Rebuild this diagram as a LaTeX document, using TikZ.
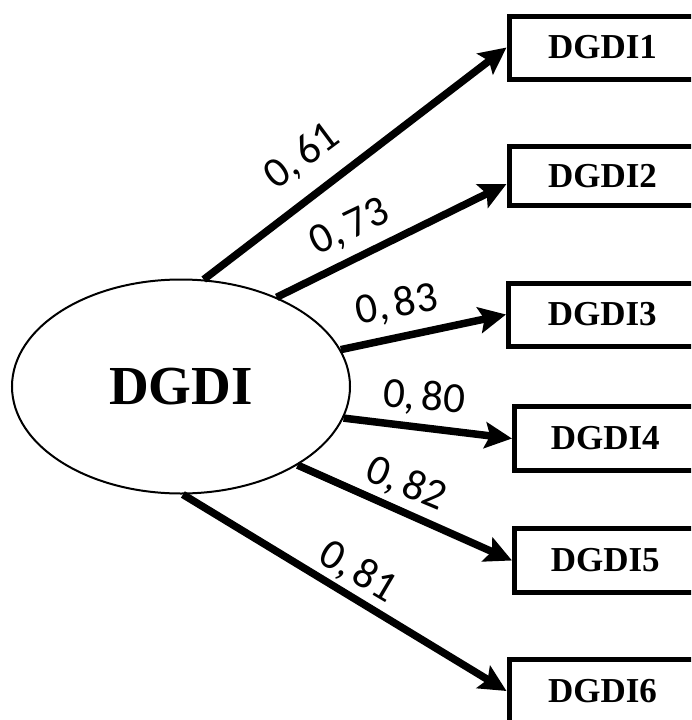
\documentclass[tikz,border=0pt]{standalone}
\usepackage{fontspec}
\setmainfont{Liberation Serif}
\newfontfamily\labfont{Carlito}
\usetikzlibrary{arrows.meta,shapes.geometric}
\begin{document}
\begin{tikzpicture}[x=1pt,y=-1pt,
  itembox/.style={draw,line width=5pt,rectangle,inner sep=0pt,
    font=\bfseries\fontsize{35}{40}\selectfont},
  latent/.style={draw,line width=2pt,ellipse,inner sep=0pt,
    minimum width=338pt,minimum height=214pt,
    font=\bfseries\fontsize{55}{60}\selectfont},
  load/.style={line width=7.5pt,-{Stealth[length=27pt,width=26pt,inset=5pt]}},
  coef/.style={font=\labfont\fontsize{43}{48}\selectfont,inner sep=0pt}]
\useasboundingbox (0,0) rectangle (691,720);
\clip (0,0) rectangle (691,720);
\fill[white] (0,0) rectangle (691,720);

\node[latent] (f) at (181,386.5) {DGDI};

\node[itembox,minimum width=187pt,minimum height=63pt] (b1) at (602.5,47.5) {DGDI1};
\node[itembox,minimum width=187pt,minimum height=59pt] (b2) at (602.5,176) {DGDI2};
\node[itembox,minimum width=187.5pt,minimum height=63pt] (b3) at (602.25,314.5) {DGDI3};
\node[itembox,minimum width=181.5pt,minimum height=64pt] (b4) at (605.25,438.5) {DGDI4};
\node[itembox,minimum width=181.5pt,minimum height=64pt] (b5) at (605.25,560.5) {DGDI5};
\node[itembox,minimum width=187pt,minimum height=63pt] (b6) at (602.5,691) {DGDI6};

\draw[load] (f.78.6) -- (b1.west);
\draw[load] (f.43.8) -- ([yshift=-8pt]b2.west);
\draw[load] (f.13.4) -- (b3.west);
\draw[load] (f.-11.2) -- (b4.west);
\draw[load] (f.-34.9) -- (b5.west);
\draw[load] (f.-89.5) -- (b6.west);

\node[coef,rotate=36.7] (l1) at (302,157) {0,\hspace{6pt}61};
\node[coef,rotate=25.7] (l2) at (350,228) {0,\hspace{6pt}73};
\node[coef,rotate=11] (l3) at (397,305) {0,\hspace{6pt}83};
\node[coef,rotate=-5] (l4) at (424,398) {0,\hspace{6pt}80};
\node[coef,rotate=-22.8] (l5) at (406,484) {0,\hspace{6pt}82};
\node[coef,rotate=-30.6] (l6) at (358,572) {0,\hspace{6pt}81};
\end{tikzpicture}
\end{document}
